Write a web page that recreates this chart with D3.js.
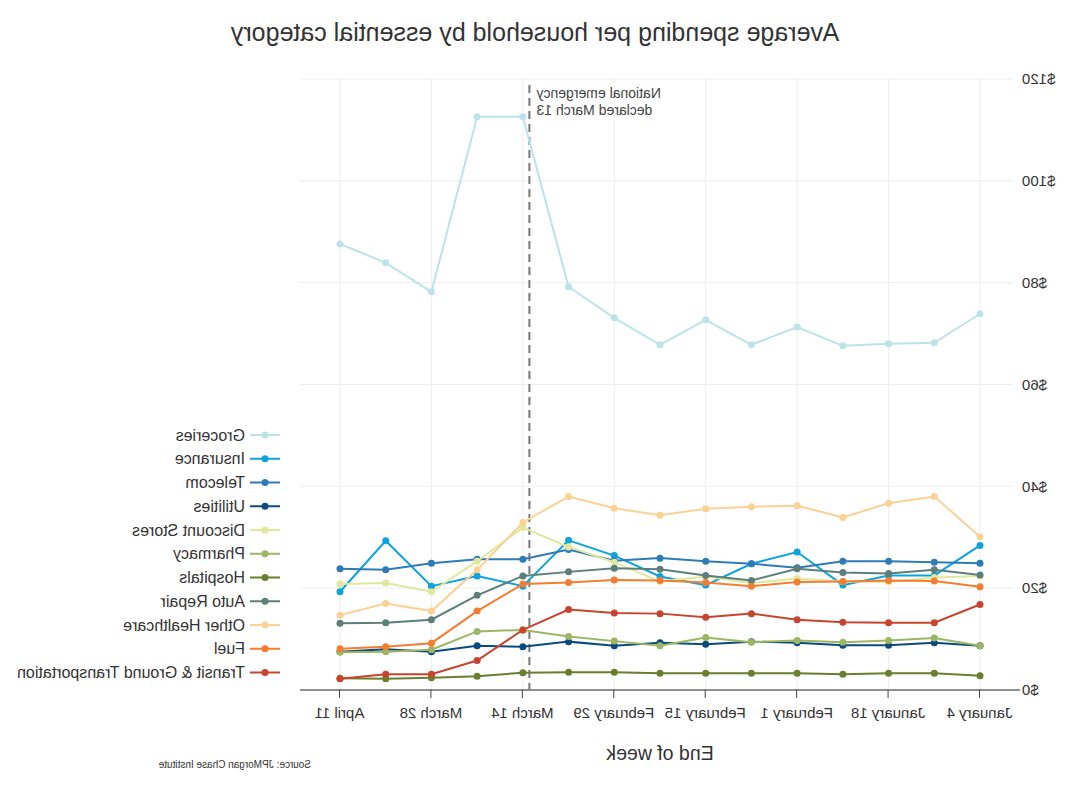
<!DOCTYPE html>
<html>
<head>
<meta charset="utf-8">
<script src="https://cdn.jsdelivr.net/npm/d3@7"></script>
<style>
  html, body { margin: 0; padding: 0; background: #fff; }
  text { font-family: "Liberation Sans", Arial, sans-serif; }
</style>
</head>
<body>
<svg id="chart" width="1070" height="800"></svg>
<script>
// ---- data ----
const weeks = ["2020-01-04","2020-01-11","2020-01-18","2020-01-25","2020-02-01","2020-02-08","2020-02-15","2020-02-22","2020-02-29","2020-03-07","2020-03-14","2020-03-21","2020-03-28","2020-04-04","2020-04-11"];
const tickDates = ["2020-01-04","2020-01-18","2020-02-01","2020-02-15","2020-02-29","2020-03-14","2020-03-28","2020-04-11"];
const tickLabels = ["January 4","January 18","February 1","February 15","February 29","March 14","March 28","April 11"];
const yTicks = [0, 20, 40, 60, 80, 100, 120];
const seriesNames = ["Groceries","Insurance","Telecom","Utilities","Discount Stores","Pharmacy","Hospitals","Auto Repair","Other Healthcare","Fuel","Transit & Ground Transportation"];
const seriesColors = ["#bde3ea","#0ea3dd","#2f7bb6","#0b4a7d","#dfe89b","#9cb664","#6b7e2d","#5c7f7b","#fbd194","#f47d30","#c7442e"];
const groceries       = [73.9, 68.2, 68.0, 67.6, 71.3, 67.8, 72.7, 67.8, 73.1, 79.2, 112.6, 112.6, 78.2, 83.9, 87.6];
const insurance       = [28.4, 22.5, 22.5, 20.6, 27.1, 24.8, 20.6, 22.3, 26.4, 29.4, 20.4, 22.4, 20.4, 29.3, 19.3];
const telecom         = [24.9, 25.1, 25.3, 25.3, 24.0, 24.8, 25.3, 25.9, 25.4, 27.6, 25.7, 25.7, 24.9, 23.6, 23.8];
const utilities       = [8.7, 9.3, 8.8, 8.8, 9.3, 9.5, 9.0, 9.3, 8.7, 9.5, 8.5, 8.7, 7.5, 8.0, 7.5];
const discountStores  = [22.4, 22.1, 21.2, 21.3, 21.9, 21.0, 22.3, 21.3, 25.1, 28.1, 31.9, 25.3, 19.3, 21.0, 20.8];
const pharmacy        = [8.7, 10.2, 9.7, 9.4, 9.7, 9.4, 10.3, 8.7, 9.6, 10.5, 11.8, 11.5, 7.9, 7.5, 7.4];
const hospitals       = [2.8, 3.3, 3.3, 3.1, 3.3, 3.3, 3.3, 3.3, 3.5, 3.5, 3.4, 2.7, 2.4, 2.2, 2.3];
const autoRepair      = [22.6, 23.6, 22.9, 23.1, 23.8, 21.5, 22.5, 23.7, 23.9, 23.2, 22.4, 18.6, 13.8, 13.2, 13.1];
const otherHealthcare = [30.1, 38.0, 36.7, 33.9, 36.2, 36.0, 35.6, 34.3, 35.7, 38.0, 32.9, 23.6, 15.5, 17.0, 14.7];
const fuel            = [20.3, 21.4, 21.5, 21.3, 21.2, 20.4, 21.1, 21.5, 21.6, 21.1, 20.8, 15.5, 9.2, 8.5, 8.1];
const transit         = [16.8, 13.2, 13.2, 13.3, 13.8, 15.0, 14.3, 15.0, 15.1, 15.8, 11.8, 5.8, 3.1, 3.1, 2.2];
const seriesValues = [groceries, insurance, telecom, utilities, discountStores, pharmacy, hospitals, autoRepair, otherHealthcare, fuel, transit];
const emergencyDate = "2020-03-13";
const annotationLines = ["National emergency", "declared March 13"];

// ---- chart ----
const parse = d3.timeParse("%Y-%m-%d");
const svg = d3.select("#chart");
// whole chart is mirrored horizontally, as in the reference
const root = svg.append("g").attr("transform", "translate(1070,0) scale(-1,1)");

const plotL = 57, plotR = 770, plotT = 79, plotB = 690;
const x = d3.scaleTime().domain([parse(weeks[0]), parse(weeks[weeks.length-1])]).range([90, 730]);
const y = d3.scaleLinear().domain([0, 120]).range([plotB, plotT]);

// grid
const grid = root.append("g");
grid.selectAll("line.h").data(yTicks.filter(d => d > 0)).join("line")
  .attr("x1", plotL).attr("x2", plotR)
  .attr("y1", d => y(d)).attr("y2", d => y(d))
  .attr("stroke", "#eeeeee").attr("stroke-width", 1);
grid.selectAll("line.v").data(tickDates).join("line")
  .attr("x1", d => x(parse(d))).attr("x2", d => x(parse(d)))
  .attr("y1", plotT).attr("y2", plotB)
  .attr("stroke", "#eeeeee").attr("stroke-width", 1);

// x axis
const xAxis = d3.axisBottom(x)
  .tickValues(tickDates.map(parse))
  .tickFormat((d, i) => tickLabels[i])
  .tickSize(8).tickSizeOuter(0);
const gx = root.append("g").attr("transform", `translate(0,${plotB})`).call(xAxis);
gx.select(".domain").remove();
gx.selectAll(".tick line").attr("stroke", "#444");
gx.selectAll(".tick text").attr("font-size", 15).attr("fill", "#333").attr("dy", "1.15em")
  .style("font-family", "'Liberation Sans', Arial, sans-serif");
root.append("line").attr("x1", 50).attr("x2", plotR).attr("y1", plotB).attr("y2", plotB)
  .attr("stroke", "#222").attr("stroke-width", 1.2);

// y axis labels
const yAxis = d3.axisLeft(y).tickValues(yTicks).tickFormat(d => "$" + d).tickSize(0);
const gy = root.append("g").attr("transform", `translate(49,0)`).call(yAxis);
gy.select(".domain").remove();
gy.selectAll(".tick text").attr("font-size", 15).attr("fill", "#333").attr("x", -1)
  .style("font-family", "'Liberation Sans', Arial, sans-serif");

// emergency line
const ex = x(parse(emergencyDate));
root.append("line").attr("x1", ex).attr("x2", ex).attr("y1", 85).attr("y2", plotB)
  .attr("stroke", "#777").attr("stroke-width", 2).attr("stroke-dasharray", "8,5");
root.append("g").selectAll("text").data(annotationLines).join("text")
  .attr("x", ex - 7).attr("y", (d, i) => 98 + i * 17)
  .attr("text-anchor", "end").attr("font-size", 14).attr("fill", "#444")
  .text(d => d);

// series
const line = d3.line().x((d, i) => x(parse(weeks[i]))).y(d => y(d));
const gs = root.append("g");
seriesValues.forEach((vals, k) => {
  const g = gs.append("g");
  g.append("path").datum(vals).attr("d", line)
    .attr("fill", "none").attr("stroke", seriesColors[k]).attr("stroke-width", 2);
  g.selectAll("circle").data(vals).join("circle")
    .attr("cx", (d, i) => x(parse(weeks[i]))).attr("cy", d => y(d)).attr("r", 3.5)
    .attr("fill", seriesColors[k]);
});

// legend
const lg = root.append("g");
seriesNames.forEach((name, k) => {
  const yy = 435 + k * 23.75;
  lg.append("line").attr("x1", 790).attr("x2", 820).attr("y1", yy).attr("y2", yy)
    .attr("stroke", seriesColors[k]).attr("stroke-width", 2);
  lg.append("circle").attr("cx", 805).attr("cy", yy).attr("r", 3.5).attr("fill", seriesColors[k]);
  lg.append("text").attr("x", 825).attr("y", yy).attr("dy", "0.35em")
    .attr("font-size", 16).attr("fill", "#333").text(name);
});

// titles
root.append("text").attr("x", 535).attr("y", 41).attr("text-anchor", "middle")
  .attr("font-size", 25).attr("fill", "#333").text("Average spending per household by essential category");
root.append("text").attr("x", 410).attr("y", 760).attr("text-anchor", "middle")
  .attr("font-size", 19.5).attr("fill", "#333").text("End of week");
root.append("text").attr("x", 759).attr("y", 768).attr("text-anchor", "start")
  .attr("font-size", 10).attr("fill", "#333").text("Source: JPMorgan Chase Institute");
</script>
</body>
</html>
